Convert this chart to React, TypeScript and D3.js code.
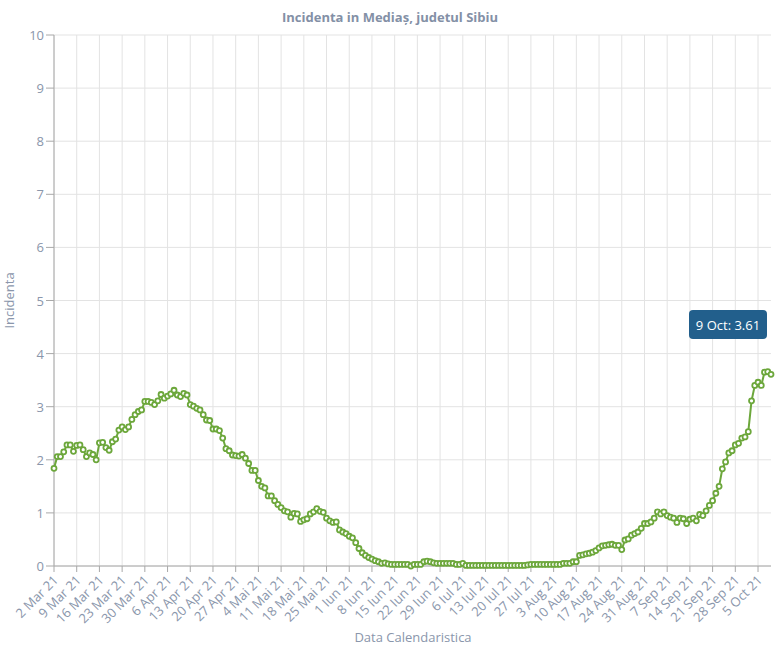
import React from "react"
import * as d3 from "d3"

// incidenta zilnica, 2 Mar 21 -> 9 Oct 21
const startDate = new Date(2021, 2, 2)
const values: number[] = [
    1.84, 2.06, 2.06, 2.15, 2.28, 2.28, 2.16, 2.27, 2.28, 2.19,
    2.06, 2.13, 2.10, 2.00, 2.32, 2.33, 2.23, 2.18, 2.34, 2.39,
    2.56, 2.62, 2.57, 2.62, 2.76, 2.85, 2.91, 2.94, 3.10, 3.10,
    3.08, 3.04, 3.11, 3.23, 3.16, 3.20, 3.24, 3.31, 3.22, 3.19,
    3.25, 3.22, 3.04, 3.01, 2.97, 2.94, 2.85, 2.75, 2.74, 2.58,
    2.58, 2.55, 2.41, 2.21, 2.17, 2.09, 2.08, 2.07, 2.10, 2.03,
    1.93, 1.80, 1.80, 1.61, 1.50, 1.47, 1.32, 1.32, 1.23, 1.16,
    1.10, 1.04, 1.02, 0.92, 0.99, 0.98, 0.84, 0.87, 0.89, 0.98,
    1.02, 1.08, 1.03, 1.01, 0.90, 0.85, 0.82, 0.83, 0.68, 0.64,
    0.61, 0.56, 0.53, 0.44, 0.33, 0.25, 0.20, 0.16, 0.13, 0.10,
    0.08, 0.05, 0.06, 0.04, 0.03, 0.03, 0.03, 0.03, 0.03, 0.03,
    0.00, 0.03, 0.03, 0.03, 0.08, 0.09, 0.08, 0.06, 0.05, 0.05,
    0.05, 0.05, 0.05, 0.05, 0.03, 0.03, 0.05, 0.01, 0.01, 0.01,
    0.01, 0.01, 0.01, 0.01, 0.01, 0.01, 0.01, 0.01, 0.01, 0.01,
    0.01, 0.01, 0.01, 0.01, 0.01, 0.01, 0.02, 0.03, 0.03, 0.03,
    0.03, 0.03, 0.03, 0.03, 0.03, 0.03, 0.03, 0.05, 0.05, 0.05,
    0.08, 0.08, 0.20, 0.21, 0.23, 0.24, 0.26, 0.29, 0.34, 0.38,
    0.39, 0.40, 0.41, 0.39, 0.39, 0.31, 0.49, 0.51, 0.58, 0.61,
    0.64, 0.71, 0.80, 0.80, 0.83, 0.90, 1.02, 0.98, 1.02, 0.95,
    0.92, 0.90, 0.82, 0.90, 0.89, 0.80, 0.88, 0.90, 0.85, 0.97,
    0.95, 1.04, 1.14, 1.23, 1.37, 1.50, 1.83, 1.96, 2.13, 2.17,
    2.28, 2.31, 2.41, 2.43, 2.53, 3.11, 3.40, 3.46, 3.40, 3.65,
    3.66, 3.61,
]
const tickLabels: string[] = [
    "2 Mar 21", "9 Mar 21", "16 Mar 21", "23 Mar 21", "30 Mar 21",
    "6 Apr 21", "13 Apr 21", "20 Apr 21", "27 Apr 21", "4 Mai 21",
    "11 Mai 21", "18 Mai 21", "25 Mai 21", "1 Iun 21", "8 Iun 21",
    "15 Iun 21", "22 Iun 21", "29 Iun 21", "6 Iul 21", "13 Iul 21",
    "20 Iul 21", "27 Iul 21", "3 Aug 21", "10 Aug 21", "17 Aug 21",
    "24 Aug 21", "31 Aug 21", "7 Sep 21", "14 Sep 21", "21 Sep 21",
    "28 Sep 21", "5 Oct 21",
]
const yTicks: number[] = [0, 1, 2, 3, 4, 5, 6, 7, 8, 9, 10]
const tooltipText = "9 Oct: 3.61"

const W = 780
const H = 652
const left = 54
const right = 771
const top = 35
const bottom = 566

const labelColor = "#8a96ab"
const font = "'Open Sans', sans-serif"

export default function App() {
    const dates = values.map((_, i) => d3.timeDay.offset(startDate, i))
    const x = d3.scaleTime().domain([dates[0], dates[dates.length - 1]]).range([left, right])
    const y = d3.scaleLinear().domain([0, 10]).range([bottom, top])

    const line = d3.line<number>()
        .x((_, i) => x(dates[i]))
        .y((d) => y(d))

    const tickDates = tickLabels.map((_, i) => d3.timeDay.offset(startDate, i * 7))

    return (
        <svg width={W} height={H} style={{ position: "absolute", left: 0, top: 0, fontFamily: font }}>
            <rect width={W} height={H} fill="#fff" />
            <text x={390} y={22} textAnchor="middle" fontSize={13} fontWeight="bold" fill="#8390a6">
                Incidenta in Mediaș, judetul Sibiu
            </text>

            {/* grid */}
            {yTicks.map((t) => (
                <line key={"gy" + t} x1={left} x2={right} y1={y(t)} y2={y(t)} stroke="#e3e3e3" />
            ))}
            {tickDates.map((d, i) => (
                <line key={"gx" + i} x1={x(d)} x2={x(d)} y1={top} y2={bottom} stroke="#e3e3e3" />
            ))}

            {/* axes */}
            <line x1={left} x2={left} y1={top} y2={bottom} stroke="#a8a8a8" />
            <line x1={left} x2={right} y1={bottom} y2={bottom} stroke="#a8a8a8" />
            {yTicks.map((t) => (
                <g key={"ty" + t}>
                    <line x1={left - 8} x2={left} y1={y(t)} y2={y(t)} stroke="#a8a8a8" />
                    <text x={left - 10} y={y(t) + 5} textAnchor="end" fontSize={13} fill={labelColor}>{t}</text>
                </g>
            ))}
            {tickDates.map((d, i) => (
                <g key={"tx" + i}>
                    <line x1={x(d)} x2={x(d)} y1={bottom} y2={bottom + 6} stroke="#a8a8a8" />
                    <text
                        transform={`translate(${x(d) + 5},${bottom + 15}) rotate(-45)`}
                        textAnchor="end"
                        fontSize={13}
                        fill={labelColor}
                    >
                        {tickLabels[i]}
                    </text>
                </g>
            ))}
            <text x={413} y={642} textAnchor="middle" fontSize={13} fill={labelColor}>Data Calendaristica</text>
            <text transform={`translate(14,${(top + bottom) / 2}) rotate(-90)`} textAnchor="middle" fontSize={13} fill={labelColor}>
                Incidenta
            </text>

            {/* series */}
            <path d={line(values) ?? ""} fill="none" stroke="#6ca73b" strokeWidth={2} />
            {values.map((v, i) => (
                <circle key={i} cx={x(dates[i])} cy={y(v)} r={2.5} fill="#fff" stroke="#6ca73b" strokeWidth={1.8} />
            ))}

            {/* tooltip */}
            <g transform="translate(689,310)">
                <rect width={78} height={29} rx={4} fill="#225f8c" />
                <text x={39} y={19.5} textAnchor="middle" fontSize={13} fill="#fff">{tooltipText}</text>
            </g>
        </svg>
    )
}
